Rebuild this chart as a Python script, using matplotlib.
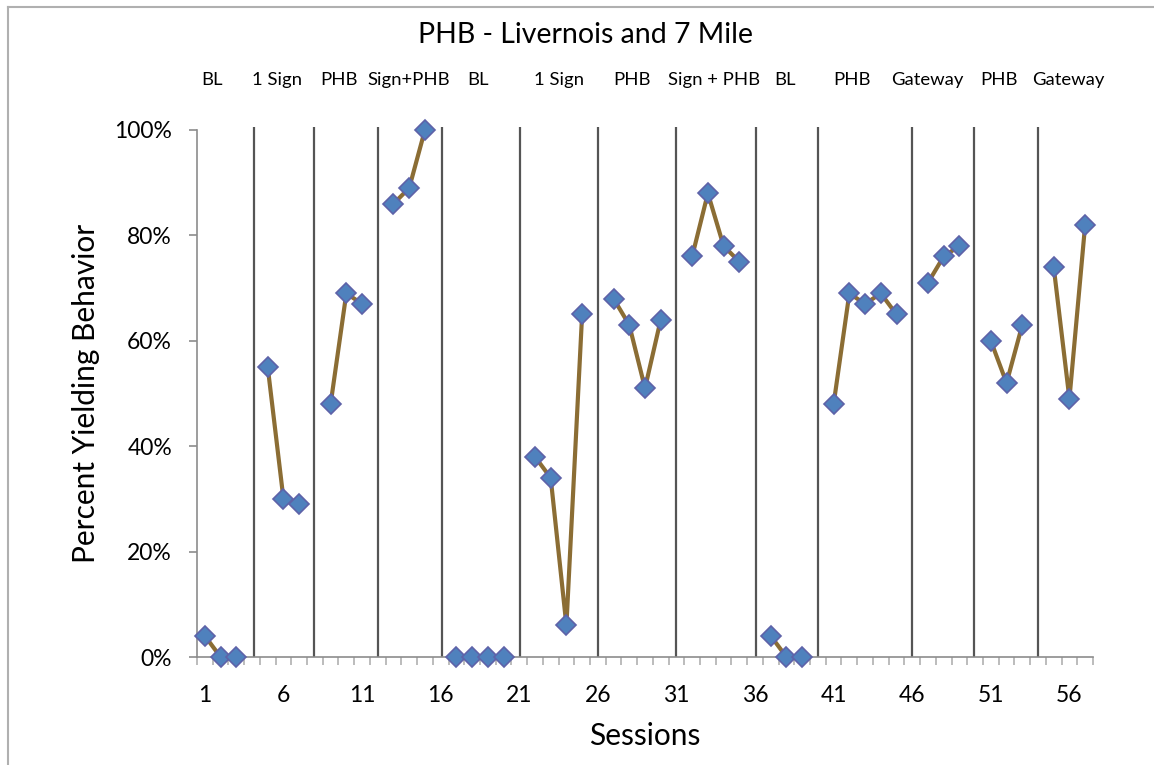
import numpy as np
import matplotlib
matplotlib.use("Agg")
import matplotlib.pyplot as plt
from matplotlib.ticker import FixedLocator, PercentFormatter

# Datos: porcentaje de conducta de ceder el paso por sesión (NaN = cambio de fase)
SESIONES = list(range(1, 58))
VALORES = [4, 0, 0, np.nan, 55, 30, 29, np.nan, 48, 69, 67, np.nan,
           86, 89, 100, np.nan, 0, 0, 0, 0, np.nan, 38, 34, 6, 65, np.nan,
           68, 63, 51, 64, np.nan, 76, 88, 78, 75, np.nan, 4, 0, 0, np.nan,
           48, 69, 67, 69, 65, np.nan, 71, 76, 78, np.nan, 60, 52, 63, np.nan,
           74, 49, 82]

# Líneas de cambio de fase (posición en sesiones)
CAMBIOS_FASE = [4.15, 7.95, 12.0, 16.1, 21.05, 26.0, 31.0, 36.05, 40.0, 46.0, 49.9, 54.0]

# Etiquetas de fase
FASES = ["BL", "1 Sign", "PHB", "Sign+PHB", "BL", "1 Sign", "PHB", "Sign + PHB",
         "BL", "PHB", "Gateway", "PHB", "Gateway"]
FASES_X = [1.47, 5.58, 9.56, 13.96, 18.37, 23.5, 28.19, 33.4, 37.92, 42.2, 46.98, 51.52, 55.93]

XTICKS = [1, 6, 11, 16, 21, 26, 31, 36, 41, 46, 51, 56]

FUENTE = ["Lato", "DejaVu Sans"]
plt.rcParams['font.family'] = FUENTE

fig = plt.figure(figsize=(11.54, 7.65), dpi=100)
ax = fig.add_axes([197 / 1154, 1 - 657 / 765, (1093 - 197) / 1154, (657 - 130) / 765])

# borde del área del gráfico (solo izquierda y arriba visibles)
fig.add_artist(plt.Line2D([8 / 1154, 8 / 1154], [0, 1 - 7 / 765], transform=fig.transFigure,
                          color="#b0b0b0", linewidth=1.5))
fig.add_artist(plt.Line2D([8 / 1154, 1], [1 - 7 / 765, 1 - 7 / 765], transform=fig.transFigure,
                          color="#b0b0b0", linewidth=1.5))

# líneas de fase
ax.vlines(CAMBIOS_FASE, 0, 100.6, colors="#555555", linewidth=1.6, clip_on=False, zorder=2)

ax.plot(SESIONES, VALORES, color="#8B6D34", linewidth=3, marker="D", markersize=10.5,
        markerfacecolor="#4F81BD", markeredgecolor="#5E62A8", markeredgewidth=1.2,
        clip_on=False, zorder=3)

ax.set_xlim(0.5, 57.5)
ax.set_ylim(0, 100)

for s in ["top", "right"]:
    ax.spines[s].set_visible(False)
for s in ["left", "bottom"]:
    ax.spines[s].set_color("#8c8c8c")
    ax.spines[s].set_linewidth(1.2)

ax.yaxis.set_major_locator(FixedLocator([0, 20, 40, 60, 80, 100]))
ax.yaxis.set_major_formatter(PercentFormatter(decimals=0))
ax.tick_params(axis="y", direction="out", length=6, width=1.2, color="#8c8c8c",
               labelsize=16.5, pad=12)

ax.set_xticks(XTICKS)
ax.set_xticks(np.arange(0.5, 58, 1), minor=True)
ax.tick_params(axis="x", which="major", length=0, labelsize=16.5, pad=20)
ax.tick_params(axis="x", which="minor", direction="out", length=6, width=1.2, color="#b0b0b0")

ax.set_xlabel("Sessions", fontsize=21.5, labelpad=12)
ax.set_ylabel("Percent Yielding Behavior", fontsize=21.5, labelpad=10)

fig.text(585 / 1154, 1 - 35 / 765, "PHB - Livernois and 7 Mile", fontsize=20.5,
         ha="center", va="center")

trans = ax.get_xaxis_transform()
for nombre, x in zip(FASES, FASES_X):
    ax.text(x, (657 - 80) / 527, nombre, transform=trans, fontsize=13.3,
            ha="center", va="center")

fig.savefig("out.png", dpi=100)
